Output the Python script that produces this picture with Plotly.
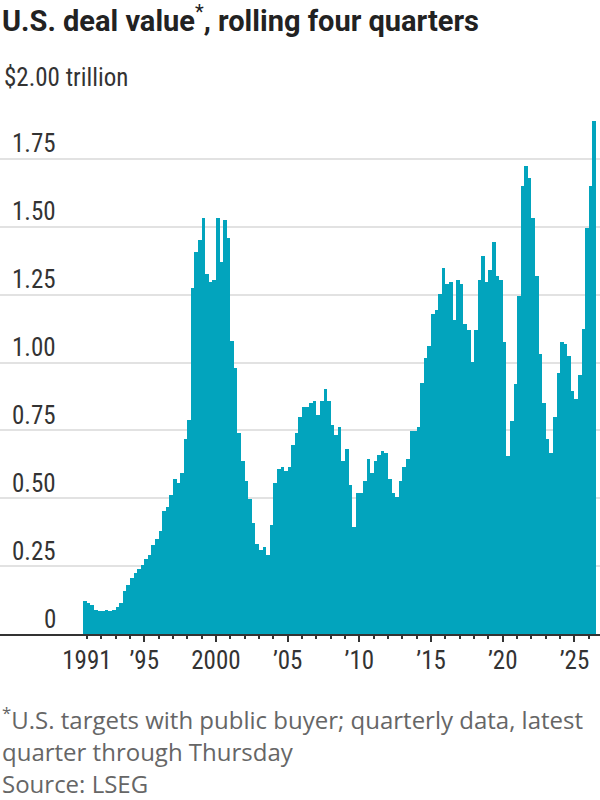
import plotly.graph_objects as go

# ---------------- data ----------------
first_year, first_q = 1990, 4
values = [
    0.121, 0.114, 0.105, 0.090, 0.084, 0.084, 0.090, 0.084, 0.090, 0.098,
    0.114, 0.158, 0.179, 0.208, 0.224, 0.238, 0.253, 0.275, 0.290, 0.327,
    0.349, 0.378, 0.452, 0.467, 0.511, 0.570, 0.555, 0.592, 0.717, 0.790,
    1.274, 1.408, 1.451, 1.532, 1.325, 1.297, 1.304, 1.532, 1.372, 1.525,
    1.458, 1.081, 0.978, 0.740, 0.638, 0.564, 0.497, 0.410, 0.330, 0.310,
    0.320, 0.290, 0.401, 0.557, 0.608, 0.615, 0.601, 0.615, 0.697, 0.741,
    0.800, 0.837, 0.837, 0.852, 0.860, 0.808, 0.860, 0.904, 0.860, 0.771,
    0.734, 0.763, 0.638, 0.682, 0.549, 0.394, 0.519, 0.519, 0.564, 0.645,
    0.593, 0.638, 0.660, 0.675, 0.667, 0.571, 0.519, 0.505, 0.564, 0.615,
    0.645, 0.749, 0.749, 0.763, 0.926, 1.015, 1.059, 1.177, 1.192, 1.251,
    1.347, 1.288, 1.296, 1.155, 1.303, 1.288, 1.140, 1.118, 1.001, 1.118,
    1.303, 1.392, 1.296, 1.340, 1.444, 1.318, 1.303, 1.075, 0.654, 0.786,
    0.919, 1.245, 1.651, 1.725, 1.681, 1.533, 1.318, 1.030, 0.852, 0.719,
    0.667, 0.800, 0.963, 1.074, 1.067, 1.023, 0.896, 0.867, 0.955, 1.123,
    1.496, 1.651, 1.888,
]
quarters = []
yy, qq = first_year, first_q
for _ in values:
    quarters.append(f"{yy}Q{qq}")
    qq += 1
    if qq > 4:
        qq, yy = 1, yy + 1

x_label_years = [1991, 1995, 2000, 2005, 2010, 2015, 2020, 2025]
x_labels = ["1991", "’95", "2000", "’05", "’10", "’15", "’20", "’25"]
major_years = [1995, 2000, 2005, 2010, 2015, 2020, 2025]
minor_years = [y for y in range(1991, 2027) if y not in major_years]

y_ticks = [0, 0.25, 0.5, 0.75, 1.0, 1.25, 1.5, 1.75, 2.0]
y_labels = ["0", "0.25", "0.50", "0.75", "1.00", "1.25", "1.50", "1.75", "$2.00 trillion"]

title = "<b>U.S. deal value</b><sup>*</sup><b>, rolling four quarters</b>"
notes = [
    "<sup>*</sup>U.S. targets with public buyer; quarterly data, latest",
    "quarter through Thursday",
    "Source: LSEG",
]

# ---------------- style ----------------
W, H = 600, 800
TOP, BOTTOM = 91, 634
BAR = "#02a4bd"
NUM_FONT = "Roboto Condensed, Liberation Sans Narrow, Roboto, sans-serif"
TITLE_FONT = "Roboto, sans-serif"
NOTE_FONT = "Open Sans, Roboto, sans-serif"
XR = [1984.94, 2026.78]


def py(px):
    return (BOTTOM - px) / (BOTTOM - TOP)


x_pos = [int(s[:4]) + (int(s[-1]) - 1) / 4 + 0.125 for s in quarters]

fig = go.Figure()
fig.add_bar(x=x_pos, y=values, width=0.25,
            marker=dict(color=BAR, line=dict(width=0)),
            hoverinfo="skip", showlegend=False)
fig.add_scatter(x=[x_pos[0]], y=[0], xaxis="x2", yaxis="y", mode="markers",
                marker=dict(opacity=0, size=1), showlegend=False, hoverinfo="skip")

ann = []
for v, lab in zip(y_ticks, y_labels):
    if lab.startswith("$"):
        ann.append(dict(x=2 / W, xanchor="left", xref="paper", y=v, yref="y",
                        yanchor="middle", yshift=14, text=lab, showarrow=False,
                        font=dict(family=NUM_FONT, size=25, color="#333")))
    else:
        ann.append(dict(x=58 / W, xanchor="right", xref="paper", y=v, yref="y",
                        yanchor="middle", yshift=15, text=lab, showarrow=False,
                        font=dict(family=NUM_FONT, size=25, color="#333")))

ann.append(dict(x=0, xanchor="left", xref="paper", y=py(19), yref="paper",
                yanchor="middle", text=title, showarrow=False,
                font=dict(family=TITLE_FONT, size=29, color="#222")))
for t, c in zip(notes, [718, 751, 783.5]):
    ann.append(dict(x=0, xanchor="left", xref="paper", y=py(c), yref="paper",
                    yanchor="middle", text=t, showarrow=False,
                    font=dict(family=NOTE_FONT, size=24, color="#666")))

fig.update_layout(
    width=W, height=H,
    margin=dict(l=0, r=0, t=TOP, b=H - BOTTOM, pad=0),
    paper_bgcolor="white", plot_bgcolor="white",
    bargap=0,
    showlegend=False,
    font=dict(family=NUM_FONT, color="#333"),
    xaxis=dict(range=XR, tickmode="array", tickvals=x_label_years, ticktext=x_labels,
               ticks="", showline=True, linecolor="#333", linewidth=2,
               showgrid=False, zeroline=False, ticklabelstandoff=3,
               tickfont=dict(family=NUM_FONT, size=25, color="#333"), fixedrange=True),
    xaxis2=dict(range=XR, overlaying="x", anchor="y", side="bottom",
                tickmode="array", tickvals=major_years, ticks="outside",
                ticklen=7, tickwidth=2, tickcolor="#333", showticklabels=False,
                showgrid=False, showline=False, zeroline=False,
                minor=dict(tickmode="array", tickvals=minor_years, ticks="outside",
                           ticklen=3.5, tickwidth=1.5, tickcolor="#333", showgrid=False),
                fixedrange=True),
    yaxis=dict(range=[0, 2.0], tickmode="array", tickvals=y_ticks, showticklabels=False,
               showgrid=True, gridcolor="#e2e2e2", gridwidth=2, zeroline=False,
               showline=False, ticks="", fixedrange=True),
    annotations=ann,
)

fig.write_html("out.html", config=dict(displayModeBar=False),
               post_script="document.body.style.margin='0px';")
